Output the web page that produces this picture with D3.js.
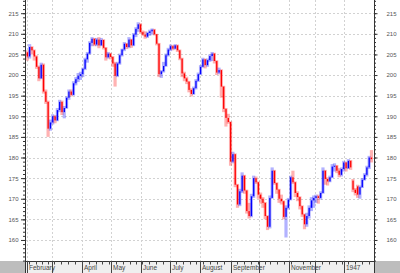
<!DOCTYPE html>
<html>
<head>
<meta charset="utf-8">
<script src="https://cdn.jsdelivr.net/npm/d3@7"></script>
<style>
  body { margin: 0; background: #fff; }
  svg text { font-family: "Liberation Sans", Arial, sans-serif; }
</style>
</head>
<body>
<div id="chart"></div>
<script>
// each bar = two trading days: [open, high, low, close]
const febApr = [
  [205.5,206,203.5,204.5],[204.5,207.5,204,206.8],[206.8,207,205,206],[206,206.2,203.5,204.5],
  [204.5,204.8,201.5,202],[202,202.3,198.5,199.2],[199.2,203,199,202.5],[202.5,202.8,195.5,196],
  [196,196.5,193,193.5],[193.5,193.8,185,187],[187,189.2,186.5,188.5],[188.5,190.5,188,190],
  [190,190.3,188.3,189],[189,192,188.8,191.5],[191.5,194,191,193.5],[193.5,193.8,190.3,191],
  [191,192.5,189.5,192],[192,194.8,191.8,194.5],[194.5,196.5,194,196],[196,196.5,194.8,195.2],
  [195.2,198.5,195,198],[198,199.5,197.5,199],[199,200.5,198.3,199.8],[199.8,200.8,198.8,200.2],
  [200.2,201.8,199.5,201.5],[201.5,204.2,201.2,203.8],[203.8,205.6,203,205.2],[205.2,208.2,205,207.8],
  [207.8,209.2,207,208.8],[208.8,209,207,207.4],[207.4,209,207,208.6],[208.6,209.2,206.5,207.2],
  [207.2,209,207,208.5],[208.5,208.7,206.2,206.6],[206.6,206.8,203.5,204.3],[204.3,205.6,204,205.2],
  [205.2,205.4,203.8,204.4]
];
const mayJul = [
  [204.4,204.6,202,202.8],[202.8,203.2,197.2,199.8],[199.8,203.2,199.5,202.8],[202.8,205.2,202.5,204.8],
  [204.8,206.4,204.5,206.2],[206.2,208,205.8,207.6],[207.6,207.8,206.3,206.8],[206.8,209.2,206.5,208.6],
  [208.6,208.8,206.6,207.2],[207.2,210.2,207,209.8],[209.8,211.6,209.2,211.2],[211.2,212.8,210.5,212.3],
  [212.3,212.6,210,210.4],[210.4,210.8,209.5,209.8],[209.8,210.6,208.8,209.3],[209.3,210.5,209,210.2],
  [210.2,211,209.5,210.6],[210.6,211.3,209.8,211],[211,211.2,209.6,209.9],[209.9,210,207.2,207.6],
  [207.6,207.8,199.5,200.2],[200.2,201.2,199.3,200.9],[200.9,203.2,200.6,202.2],[202.2,205.2,202,204.8],
  [204.8,206.6,204.5,206.2],[206.2,207.4,205.8,207],[207,207.3,206,206.4],[206.4,207.5,206.2,207.2],
  [207.2,207.4,205.6,206],[206,206.2,203.6,204],[204,204.2,199.5,200.4],[200.4,200.8,198.5,199.2],
  [199.2,199.6,197.8,198.4],[198.4,198.6,195.8,196.4],[196.4,196.8,194.8,195.4],[195.4,197.2,195.2,196.8],
  [196.8,199,196.5,198.6],[198.6,200.6,198.3,200.2]
];
const augOct = [
  [200.2,202.4,200,202],[202,204.2,201.8,203.8],[203.8,204,201.6,202.4],[202.4,204,202,203.6],
  [203.6,205,203.2,204.6],[204.6,205.6,203.4,205.2],[205.2,205.4,202.8,203.4],[203.4,203.6,200,200.6],
  [200.6,201.8,200.2,201.2],[201.2,201.4,194.5,197.2],[197.2,197.4,191,191.8],[191.8,192,187.5,189.6],
  [189.6,190.6,188.2,188.6],[188.6,188.8,178,179],[179,181.4,178.6,180.8],[180.8,181,172.8,173.4],
  [173.4,173.6,167.8,168.6],[168.6,172.4,168.2,171.8],[171.8,176.4,171.4,175.6],[175.6,175.8,171.2,172],
  [172,172.2,166.4,167],[167,169,165.2,165.8],[165.8,171.2,165.5,170.6],[170.6,175.6,170.2,175],
  [175,175.4,173.6,174],[174,174.2,170,171],[171,171.5,168.8,170],[170,170.4,167.8,169],
  [169,169.2,165,165.8],[165.8,166,162.4,163.2],[163.2,170.8,162.8,170.2],[170.2,177.6,170,176.8],
  [176.8,177,173.4,173.8],[173.8,174,171.2,172.2],[172.2,172.4,169,170],[170,171,168.6,169.4],
  [169.4,169.6,165,165.6],[165.6,168.4,160.6,167.8],[167.8,170.2,167.4,169.8]
];
const novJan = [
  [169.8,175.6,169.6,175.2],[175.2,176.8,173.6,174],[174,174.2,170.4,171.4],[171.4,171.8,169.4,170.4],
  [170.4,170.6,167.4,168.2],[168.2,168.4,165.6,166.2],[166.2,166.4,162.6,163.8],[163.8,166.6,163.2,165.8],
  [165.8,168.4,165.2,167.8],[167.8,170.4,167,169.6],[169.6,170.8,167.8,170.2],[170.2,171,169,170.6],
  [170.6,171,168.8,170.2],[170.2,171.8,169.8,171.4],[171.4,177.6,171.2,176.8],[176.8,177,173.4,174.8],
  [174.8,175.2,173.2,174.2],[174.2,175.6,174,175.2],[175.2,178.4,175,177.8],[177.8,178.6,176.6,178],
  [178,178.2,176.2,176.8],[176.8,177.4,175.2,175.8],[175.8,177.6,175.4,177.2],[177.2,179.2,176.6,178.8],
  [178.8,179,176.6,177.4],[177.4,179.6,177.2,179.2],[179.2,179.4,177,177.6],[174.4,174.8,171.6,172.2],
  [172.2,172.6,170.8,171.4],[173,173.4,170.2,171],[171,173.2,170,172.8],[172.8,175,172.6,174.6],
  [174.6,176.2,174.4,175.8],[175.8,178,175.4,177.6],[177.6,180.4,177.2,180],[180,181.8,178.8,179.6]
];
const monthLabels = ["February", "", "April", "May", "June", "July", "August", "September", "", "November", "", "1947"];
const priceTicks = [160, 165, 170, 175, 180, 185, 190, 195, 200, 205, 210, 215];
const holidays = ["1946-02-12", "1946-02-22", "1946-04-19", "1946-05-30", "1946-07-04", "1946-09-02",
  "1946-10-12", "1946-11-05", "1946-11-11", "1946-11-28", "1946-12-25", "1947-01-01"];

var width = 400, height = 273;
var left = 25, right = 374, bottom = 261;

var bars = [...febApr, ...mayJul, ...augOct, ...novJan];

// trading calendar (Mon-Sat, no holidays) for month and week ticks
var fmt = d3.timeFormat("%Y-%m-%d");
var days = d3.timeDay.range(new Date(1946, 1, 1), new Date(1947, 1, 1))
  .filter(d => d.getDay() !== 0 && holidays.indexOf(fmt(d)) < 0);
var monthStarts = [], mondays = [];
days.forEach((d, i) => {
  if (i === 0 || d.getMonth() !== days[i - 1].getMonth()) monthStarts.push(i);
  else if (d.getDay() === 1) mondays.push(i);
});

var x = d3.scaleLinear().domain([-1.5, 300.7]).range([left, right]);
var y = d3.scaleLinear().domain([154.9, 218.2]).range([bottom, 0]);

var svg = d3.select("#chart").append("svg")
  .attr("width", width)
  .attr("height", height);

svg.append("rect").attr("width", width).attr("height", height).attr("fill", "#fff");

// bottom strip
svg.append("rect").attr("x", left).attr("y", bottom).attr("width", right - left).attr("height", height - bottom).attr("fill", "#efefef");
svg.append("rect").attr("x", 0).attr("y", bottom).attr("width", left).attr("height", height - bottom).attr("fill", "#bdbdbd");
svg.append("rect").attr("x", right).attr("y", bottom).attr("width", width - right).attr("height", height - bottom).attr("fill", "#bdbdbd");

// grid
svg.append("g").selectAll("line")
  .data(priceTicks)
  .enter().append("line")
  .attr("x1", left).attr("x2", right)
  .attr("y1", d => Math.round(y(d)) + 0.5).attr("y2", d => Math.round(y(d)) + 0.5)
  .attr("stroke", "#d2d2d2").attr("stroke-dasharray", "2,2");

svg.append("g").selectAll("line")
  .data(monthStarts)
  .enter().append("line")
  .attr("x1", d => Math.round(x(d)) + 0.5).attr("x2", d => Math.round(x(d)) + 0.5)
  .attr("y1", 0).attr("y2", bottom)
  .attr("stroke", "#d2d2d2").attr("stroke-dasharray", "2,2");

// bars: pale high-low band, solid open-close body
var barG = svg.append("g");
bars.forEach((b, i) => {
  var cx = x(i * 2 + 0.5);
  var up = b[3] >= b[0];
  barG.append("rect")
    .attr("x", cx - 1.6).attr("width", 3.2)
    .attr("y", y(b[1])).attr("height", Math.max(1, y(b[2]) - y(b[1])))
    .attr("fill", up ? "#0000ff" : "#ff0000")
    .attr("fill-opacity", 0.3);
  barG.append("rect")
    .attr("x", cx - 0.6).attr("width", 1.3)
    .attr("y", y(Math.max(b[0], b[3]))).attr("height", Math.max(1, Math.abs(y(b[0]) - y(b[3]))))
    .attr("fill", up ? "#0000ff" : "#ff0000");
});

// price axes
svg.append("g").attr("transform", `translate(${left},0)`)
  .call(d3.axisLeft(y).tickValues(priceTicks).tickSize(4).tickSizeOuter(0).tickPadding(2.5));
svg.append("g").attr("transform", `translate(${left},0)`)
  .call(d3.axisLeft(y).tickValues(d3.range(155, 219)).tickSize(2).tickSizeOuter(0).tickFormat(""));
svg.append("g").attr("transform", `translate(${right},0)`)
  .call(d3.axisRight(y).tickValues(priceTicks).tickSize(3.5).tickSizeOuter(0).tickPadding(9));
svg.append("g").attr("transform", `translate(${right},0)`)
  .call(d3.axisRight(y).tickValues(d3.range(155, 219)).tickSize(2).tickSizeOuter(0).tickFormat(""));

svg.selectAll(".domain").remove();
svg.selectAll(".tick line").attr("stroke", "#333");
svg.selectAll(".tick text").attr("font-size", 6).attr("fill", "#555")
  .attr("font-family", "'Liberation Sans', Arial, sans-serif");

svg.append("line").attr("x1", left + 0.5).attr("x2", left + 0.5).attr("y1", 0).attr("y2", height).attr("stroke", "#333");
svg.append("line").attr("x1", right + 0.5).attr("x2", right + 0.5).attr("y1", 0).attr("y2", height).attr("stroke", "#333");

// time axis
svg.append("line").attr("x1", left).attr("x2", right).attr("y1", bottom + 0.5).attr("y2", bottom + 0.5).attr("stroke", "#333");
svg.append("g").selectAll("line")
  .data(mondays)
  .enter().append("line")
  .attr("x1", d => Math.round(x(d)) + 0.5).attr("x2", d => Math.round(x(d)) + 0.5)
  .attr("y1", bottom).attr("y2", bottom + 3.5)
  .attr("stroke", "#444");
svg.append("g").selectAll("line")
  .data(monthStarts)
  .enter().append("line")
  .attr("x1", d => Math.round(x(d)) + 0.5).attr("x2", d => Math.round(x(d)) + 0.5)
  .attr("y1", bottom).attr("y2", height)
  .attr("stroke", "#444");
svg.append("g").selectAll("text")
  .data(monthStarts)
  .enter().append("text")
  .attr("x", d => Math.round(x(d)) + 2)
  .attr("y", 270)
  .attr("font-size", 6.5)
  .attr("fill", "#444")
  .text((d, i) => monthLabels[i]);
</script>
</body>
</html>
